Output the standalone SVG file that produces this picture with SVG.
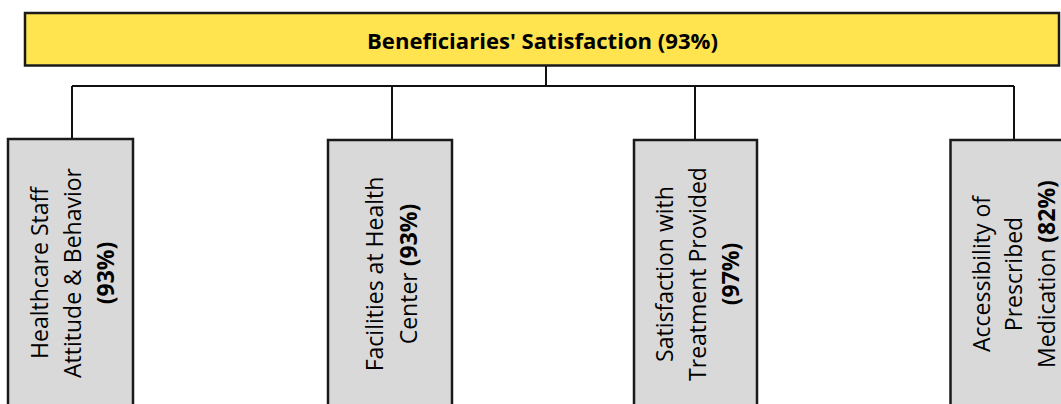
<svg xmlns="http://www.w3.org/2000/svg" width="1061" height="404" viewBox="0 0 1061 404">
<style>
.top{fill:#FFE34F;stroke:#1a1a1a;stroke-width:2.5}
.box{fill:#D9D9D9;stroke:#1a1a1a;stroke-width:2.5}
.conn{fill:none;stroke:#111;stroke-width:2}
.title{font-family:"Open Sans","Noto Sans",sans-serif;font-weight:700;font-size:21px;fill:#000;text-anchor:middle}
.lbl{font-family:"Open Sans","Noto Sans",sans-serif;font-size:23px;fill:#000;text-anchor:middle}
.b{font-weight:700}
</style>
<rect width="1061" height="404" fill="#fff"/>
<g id="connectors">
<path class="conn" d="M546 66V86M72 86H1014M72 86V139M392 86V139M695 86V139M1014 86V139"/>
</g>
<g id="root">
<rect class="top" x="25" y="13" width="1034" height="52.5"/>
<text class="title" x="542.5" y="49" textLength="351" lengthAdjust="spacingAndGlyphs">Beneficiaries' Satisfaction (93%)</text>
</g>
<g id="staff">
<rect class="box" x="8" y="139" width="125" height="280"/>
<g transform="translate(0,273) rotate(-90)">
<text class="lbl" x="0" y="48">Healthcare Staff</text>
<text class="lbl" x="0" y="81">Attitude &amp; Behavior</text>
<text class="lbl b" x="0" y="114">(93%)</text>
</g>
</g>
<g id="facilities">
<rect class="box" x="328" y="140" width="124" height="280"/>
<g transform="translate(0,274) rotate(-90)">
<text class="lbl" x="0" y="383">Facilities at Health</text>
<text class="lbl" x="0" y="416.5">Center <tspan class="b">(93%)</tspan></text>
</g>
</g>
<g id="treatment">
<rect class="box" x="634" y="140" width="123" height="280"/>
<g transform="translate(0,274) rotate(-90)">
<text class="lbl" x="0" y="673">Satisfaction with</text>
<text class="lbl" x="0" y="706">Treatment Provided</text>
<text class="lbl b" x="0" y="739">(97%)</text>
</g>
</g>
<g id="medication">
<rect class="box" x="950.5" y="140" width="125" height="280"/>
<g transform="translate(0,274) rotate(-90)">
<text class="lbl" x="0" y="990">Accessibility of</text>
<text class="lbl" x="0" y="1022">Prescribed</text>
<text class="lbl" x="0" y="1055">Medication <tspan class="b">(82%)</tspan></text>
</g>
</g>
</svg>
